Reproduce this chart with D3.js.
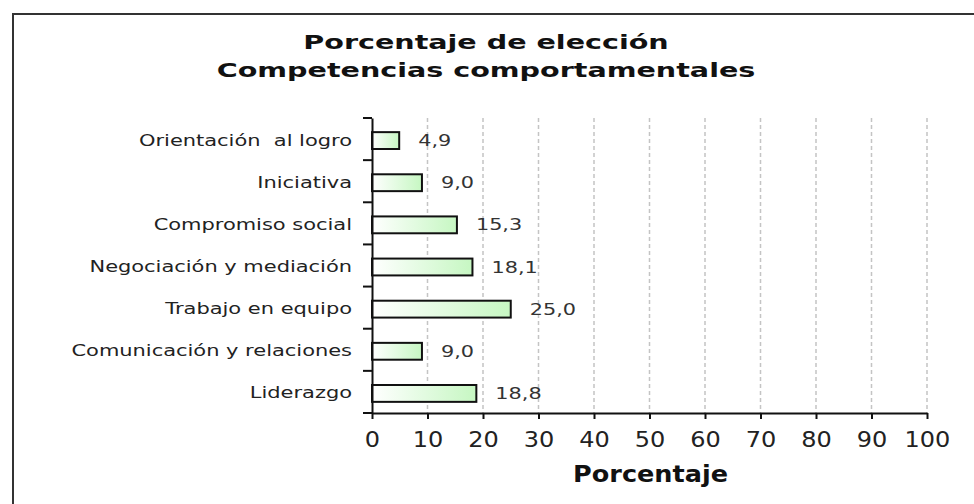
<!DOCTYPE html>
<html>
<head>
<meta charset="utf-8">
<script src="https://cdn.jsdelivr.net/npm/d3@7"></script>
<style>
  html, body { margin: 0; padding: 0; background: #fff; }
  svg text { font-family: "DejaVu Sans", Verdana, sans-serif; white-space: pre; }
</style>
</head>
<body>
<div id="chart"></div>
<script>
// data
var categories = ["Orientación  al logro", "Iniciativa", "Compromiso social",
  "Negociación y mediación", "Trabajo en equipo", "Comunicación y relaciones", "Liderazgo"];
var values = [4.9, 9.0, 15.3, 18.1, 25.0, 9.0, 18.8];
var xTicks = [0, 10, 20, 30, 40, 50, 60, 70, 80, 90, 100];
var titleLines = ["Porcentaje de elección", "Competencias comportamentales"];
var xTitle = "Porcentaje";

var W = 974, H = 504;
var LEFT = 372, RIGHT = 927, TOP = 118, BOTTOM = 413;
// the source picture is stretched sideways, so is its text
var SX_TITLE = 1.43, SX_CAT = 1.31, SX_VAL = 1.3, SX_TICK = 1.17, SX_AXT = 1.11;

var svg = d3.select("#chart").append("svg")
  .attr("width", W)
  .attr("height", H);

// outer frame, runs off the right and bottom edges
svg.append("rect")
  .attr("x", 13).attr("y", 14)
  .attr("width", 990).attr("height", 520)
  .attr("fill", "#fff")
  .attr("stroke", "#333")
  .attr("stroke-width", 2);

var defs = svg.append("defs");
var grad = defs.append("linearGradient")
  .attr("id", "barfill")
  .attr("x1", "0%").attr("x2", "100%")
  .attr("y1", "0%").attr("y2", "0%");
grad.append("stop").attr("offset", "0%").attr("stop-color", "#ffffff");
grad.append("stop").attr("offset", "100%").attr("stop-color", "#c6f7c2");

var x = d3.scaleLinear().domain([0, 100]).range([LEFT, RIGHT]);
var y = d3.scaleBand().domain(categories).range([TOP, BOTTOM]).padding(0);

// title
svg.selectAll(".title")
  .data(titleLines)
  .enter().append("text")
  .attr("class", "title")
  .attr("transform", function(d, i) {
    return "translate(486," + (49 + i * 28) + ") scale(" + SX_TITLE + ",1)";
  })
  .attr("text-anchor", "middle")
  .style("font-size", "20px")
  .style("font-weight", "bold")
  .style("fill", "#111")
  .text(function(d) { return d; });

// dashed grid
svg.selectAll(".grid")
  .data(xTicks.slice(1))
  .enter().append("line")
  .attr("class", "grid")
  .attr("x1", function(d) { return x(d); })
  .attr("x2", function(d) { return x(d); })
  .attr("y1", TOP)
  .attr("y2", BOTTOM)
  .attr("stroke", "#c4c4c4")
  .attr("stroke-width", 1.5)
  .attr("stroke-dasharray", "4,3");

// bars
var barH = y.bandwidth() * 0.4;
svg.selectAll(".bar")
  .data(values)
  .enter().append("rect")
  .attr("class", "bar")
  .attr("x", x(0))
  .attr("y", function(d, i) { return y(categories[i]) + (y.bandwidth() - barH) / 2 + 1.5; })
  .attr("width", function(d) { return x(d) - x(0); })
  .attr("height", barH)
  .attr("fill", "url(#barfill)")
  .attr("stroke", "#111")
  .attr("stroke-width", 2);

// value labels
svg.selectAll(".val")
  .data(values)
  .enter().append("text")
  .attr("class", "val")
  .attr("transform", function(d, i) {
    return "translate(" + (x(d) + 19) + "," + (y(categories[i]) + y.bandwidth() / 2 + 7) + ") scale(" + SX_VAL + ",1)";
  })
  .style("font-size", "16px")
  .style("fill", "#333")
  .text(function(d) { return d3.format(".1f")(d).replace(".", ","); });

// category axis
var yAxis = d3.axisLeft(y).tickSize(0).tickPadding(20);
var gy = svg.append("g")
  .attr("transform", "translate(" + LEFT + ",0)")
  .call(yAxis);
gy.select(".domain").attr("stroke", "#111").attr("stroke-width", 2);
gy.selectAll(".tick text")
  .attr("x", 0)
  .attr("dy", null)
  .attr("transform", "translate(-20,6.5) scale(" + SX_CAT + ",1)")
  .style("font-size", "16px")
  .style("fill", "#222");
gy.selectAll(".bound")
  .data(d3.range(categories.length + 1))
  .enter().append("line")
  .attr("class", "bound")
  .attr("x1", -9).attr("x2", 0)
  .attr("y1", function(i) { return TOP + i * y.step(); })
  .attr("y2", function(i) { return TOP + i * y.step(); })
  .attr("stroke", "#111")
  .attr("stroke-width", 2);

// value axis
var xAxis = d3.axisBottom(x).tickValues(xTicks).tickSize(6).tickPadding(6).tickSizeOuter(0);
var gx = svg.append("g")
  .attr("transform", "translate(0," + BOTTOM + ")")
  .call(xAxis);
gx.select(".domain").attr("stroke", "#111").attr("stroke-width", 2);
gx.selectAll(".tick line").attr("stroke", "#111").attr("stroke-width", 2);
gx.selectAll(".tick text")
  .attr("y", null)
  .attr("dy", null)
  .attr("transform", "translate(0,34) scale(" + SX_TICK + ",1)")
  .style("font-size", "20.5px")
  .style("fill", "#222");

svg.append("text")
  .attr("transform", "translate(" + ((LEFT + RIGHT) / 2 + 1) + ",482) scale(" + SX_AXT + ",1)")
  .attr("text-anchor", "middle")
  .style("font-size", "23px")
  .style("font-weight", "bold")
  .style("fill", "#111")
  .text(xTitle);
</script>
</body>
</html>
